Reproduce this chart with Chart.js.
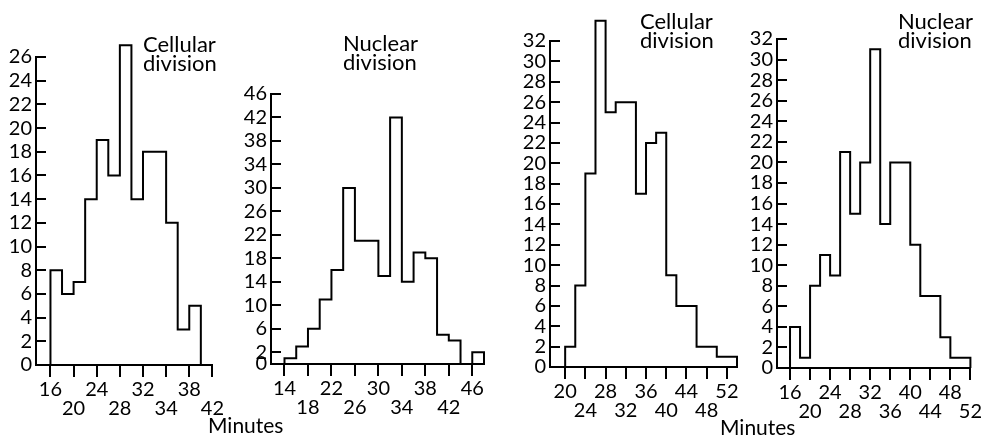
<!DOCTYPE html>
<html>
<head>
<meta charset="utf-8">
<script src="https://cdn.jsdelivr.net/npm/chart.js@4.4.0/dist/chart.umd.min.js"></script>
<style>
  body { margin: 0; background: #fff; }
  #page { position: relative; width: 983px; height: 437px; overflow: hidden; font-family: Lato, sans-serif; color: #000; }
  #page canvas { position: absolute; }
  .lbl { position: absolute; font-size: 21px; line-height: 19px; white-space: nowrap; }
  .ttl { font-size: 22px; }
</style>
</head>
<body>
<div id="page">
  <canvas id="cellA"></canvas>
  <canvas id="nucA"></canvas>
  <canvas id="cellB"></canvas>
  <canvas id="nucB"></canvas>
  <div class="lbl ttl" style="left:143px;top:34px">Cellular<br>division</div>
  <div class="lbl ttl" style="left:343px;top:33px">Nuclear<br>division</div>
  <div class="lbl ttl" style="left:640px;top:11px">Cellular<br>division</div>
  <div class="lbl ttl" style="left:898px;top:11px">Nuclear<br>division</div>
  <div class="lbl" style="left:208px;top:415px">Minutes</div>
  <div class="lbl" style="left:720px;top:417px">Minutes</div>
</div>
<script>
// every histogram uses 2-minute bins
const binWidth = 2;

// left pair - cellular division
const cellA_start = 16;
const cellA_counts = [8, 6, 7, 14, 19, 16, 27, 14, 18, 18, 12, 3, 5];
const cellA_xTicks = [16, 20, 24, 28, 32, 36, 40, 44];
const cellA_xLabels = ['16', '20', '24', '28', '32', '34', '38', '42'];
const cellA_yTicks = [0, 2, 4, 6, 8, 10, 12, 14, 16, 18, 20, 22, 24, 26];

// left pair - nuclear division
const nucA_start = 14;
const nucA_counts = [1, 3, 6, 11, 16, 30, 21, 21, 15, 42, 14, 19, 18, 5, 4, 0, 2];
const nucA_xTicks = [14, 18, 22, 26, 30, 34, 38, 42, 46];
const nucA_xLabels = ['14', '18', '22', '26', '30', '34', '38', '42', '46'];
const nucA_yTicks = [0, 2, 6, 10, 14, 18, 22, 26, 30, 34, 38, 42, 46];

// right pair - cellular division
const cellB_start = 20;
const cellB_counts = [2, 8, 19, 34, 25, 26, 26, 17, 22, 23, 9, 6, 6, 2, 2, 1, 1];
const cellB_xTicks = [20, 24, 28, 32, 36, 40, 44, 48, 52];
const cellB_xLabels = ['20', '24', '28', '32', '36', '40', '44', '48', '52'];
const cellB_yTicks = [0, 2, 4, 6, 8, 10, 12, 14, 16, 18, 20, 22, 24, 26, 28, 30, 32];

// right pair - nuclear division
const nucB_start = 16;
const nucB_counts = [4, 1, 8, 11, 9, 21, 15, 20, 31, 14, 20, 20, 12, 7, 7, 3, 1, 1];
const nucB_xTicks = [16, 20, 24, 28, 32, 36, 40, 44, 48, 52];
const nucB_xLabels = ['16', '20', '24', '28', '32', '36', '40', '44', '48', '52'];
const nucB_yTicks = [0, 2, 4, 6, 8, 10, 12, 14, 16, 18, 20, 22, 24, 26, 28, 30, 32];

// where each plot area sits on the page (pixels) and its x range
const layout = {
    cellA: { axisX: 36, top: 57, bottom: 365, right: 213, xMin: 13.5, xMax: 44 },
    nucA: { axisX: 271, top: 94, bottom: 364, right: 484, xMin: 11.7, xMax: 48 },
    cellB: { axisX: 550, top: 41, bottom: 367, right: 737, xMin: 17, xMax: 54 },
    nucB: { axisX: 777, top: 39, bottom: 368, right: 971, xMin: 13.4, xMax: 52 }
};

const PT = 36, PR = 14, YW = 36, XH = 62;
const tickFont = { family: 'Lato', size: 20, lineHeight: 0.95 };

function drawPanel(id, start, counts, xTicks, xLabels, yTicks) {
    const geo = layout[id];
    const cv = document.getElementById(id);
    const w = geo.right - geo.axisX + YW + PR;
    const h = geo.bottom - geo.top + PT + XH;
    cv.width = w;
    cv.height = h;
    cv.style.left = (geo.axisX - YW) + 'px';
    cv.style.top = (geo.top - PT) + 'px';

    // step outline: rise at the first bin edge, drop after the last one
    const pts = [{ x: start, y: 0 }];
    counts.forEach((c, i) => pts.push({ x: start + i * binWidth, y: c }));
    pts.push({ x: start + counts.length * binWidth, y: 0 });

    new Chart(cv, {
        type: 'line',
        data: {
            datasets: [{
                data: pts,
                stepped: true,
                borderColor: '#000',
                borderWidth: 2,
                pointRadius: 0,
                fill: false,
                clip: false
            }]
        },
        options: {
            responsive: false,
            animation: false,
            devicePixelRatio: 1,
            events: [],
            layout: { padding: { top: PT, right: PR, left: 0, bottom: 0 } },
            plugins: { legend: { display: false }, tooltip: { enabled: false } },
            scales: {
                x: {
                    type: 'linear',
                    min: geo.xMin,
                    max: geo.xMax,
                    afterBuildTicks: s => { s.ticks = xTicks.map(v => ({ value: v })); },
                    afterFit: s => { s.height = XH; },
                    border: { color: '#000', width: 2 },
                    grid: { drawOnChartArea: false, drawTicks: true, tickLength: 12, color: '#000', lineWidth: 2 },
                    ticks: {
                        autoSkip: false,
                        maxRotation: 0,
                        padding: 3,
                        color: '#000',
                        font: tickFont,
                        callback: (v, i) => i % 2 === 0 ? [xLabels[i]] : ['', xLabels[i]]
                    }
                },
                y: {
                    type: 'linear',
                    min: 0,
                    max: yTicks[yTicks.length - 1],
                    afterBuildTicks: s => { s.ticks = yTicks.map(v => ({ value: v })); },
                    afterFit: s => { s.width = YW; },
                    border: { color: '#000', width: 2 },
                    grid: { drawOnChartArea: false, drawTicks: true, tickLength: -10, color: '#000', lineWidth: 2 },
                    ticks: {
                        autoSkip: false,
                        padding: 14,
                        color: '#000',
                        font: tickFont
                    }
                }
            }
        }
    });
}

drawPanel('cellA', cellA_start, cellA_counts, cellA_xTicks, cellA_xLabels, cellA_yTicks);
drawPanel('nucA', nucA_start, nucA_counts, nucA_xTicks, nucA_xLabels, nucA_yTicks);
drawPanel('cellB', cellB_start, cellB_counts, cellB_xTicks, cellB_xLabels, cellB_yTicks);
drawPanel('nucB', nucB_start, nucB_counts, nucB_xTicks, nucB_xLabels, nucB_yTicks);
</script>
</body>
</html>
